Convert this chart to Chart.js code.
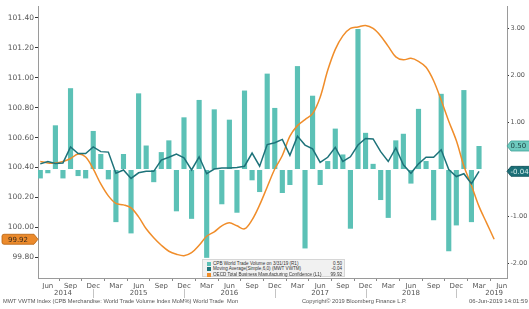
<!DOCTYPE html>
<html><head><meta charset="utf-8">
<script src="https://cdn.jsdelivr.net/npm/chart.js@4.4.0/dist/chart.umd.min.js"></script>
<style>
html,body{margin:0;padding:0;background:#fff;width:529px;height:309px;overflow:hidden;}
#wrap{position:relative;width:529px;height:309px;}
canvas{position:absolute;left:0;top:0;}
.foot{position:absolute;top:298px;font-family:"Liberation Sans",sans-serif;font-size:5.7px;color:#555;white-space:nowrap;}
#legend{position:absolute;left:202px;top:259px;width:143px;height:18px;background:#f1f1f1;border:1px solid #d6d6d6;box-sizing:border-box;font-family:"Liberation Sans",sans-serif;font-size:4.6px;color:#333;}
.row{position:absolute;left:0;right:0;height:5.6px;line-height:5.6px;white-space:nowrap;}
.sw{position:absolute;left:4px;top:1px;width:4px;height:4px;}
.tx{position:absolute;left:10px;top:0;}
.val{position:absolute;right:2px;top:0;}
</style></head>
<body><div id="wrap"><canvas id="c" width="529" height="309"></canvas>
<div id="legend"></div>
<div class="foot" style="left:3px">MWT VWTM Index (CPB Merchandise: World Trade Volume Index MoM%) World Trade&nbsp; Mon</div>
<div class="foot" style="left:302px">Copyright© 2019 Bloomberg Finance L.P.</div>
<div class="foot" style="left:469px;font-size:6px">06-Jun-2019 14:01:59</div>
</div>
<script>
// ---- categories (monthly, May 2014 .. Jun 2019) ----
const monthNames = ['Jan','Feb','Mar','Apr','May','Jun','Jul','Aug','Sep','Oct','Nov','Dec'];
const months = [];
for (let y = 2014, m = 4; y < 2019 || m <= 5; ) { months.push(monthNames[m] + ' ' + y); m++; if (m === 12) { m = 0; y++; } }

// ---- tick labels ----
const monthTickNames = ['Mar','Jun','Sep','Dec'];
const yearLabels = ['2014','2015','2016','2017','2018','2019'];
const yearLabelMonths = ['Aug 2014','Jun 2015','Jun 2016','Jun 2017','Jun 2018','May 2019'];
const yearBreakMonths = ['Dec 2014','Dec 2015','Dec 2016','Dec 2017','Dec 2018'];
const leftTicks = [99.8, 100.0, 100.2, 100.4, 100.6, 100.8, 101.0, 101.2, 101.4];
const rightTicks = [-2, -1, 0, 1, 2, 3];

// ---- series (May 2014 onward) ----
const cpbVolume = [-0.19,-0.08,0.94,-0.19,1.73,-0.14,-0.19,0.82,0.33,-0.21,
  -1.12,0.33,-1.36,1.62,0.51,-0.27,0.37,0.62,-0.89,1.11,
  -1.05,1.48,-1.88,1.28,-0.74,1.06,-0.92,1.68,-0.23,-0.48,
  2.04,1.31,-0.50,-0.33,2.20,-1.68,1.57,-0.33,0.18,0.87,
  0.32,-1.26,2.99,0.78,0.12,-0.65,-1.03,0.62,0.76,-0.30,
  1.29,0.18,-1.08,1.61,-1.74,-1.19,1.69,-1.12,0.50];
const movingAvg = [0.12,0.17,0.13,0.14,0.48,0.34,0.34,0.48,0.38,0.37,
  -0.08,-0.01,-0.19,-0.07,-0.04,-0.04,0.20,0.26,0.33,0.25,
  -0.01,0.27,-0.09,0.01,0.03,0.03,0.04,0.07,0.35,0.07,
  0.53,0.57,0.64,0.30,0.71,0.52,0.44,0.15,0.26,0.47,
  0.17,0.27,0.52,0.66,0.65,0.38,0.17,0.46,0.10,-0.08,
  0.12,0.26,0.26,0.42,0.00,-0.15,-0.09,-0.30,-0.04];
const oecdConfidence = [100.44,100.43,100.43,100.44,100.46,100.49,100.47,100.39,100.29,100.21,
  100.16,100.15,100.13,100.07,99.99,99.93,99.88,99.84,99.82,99.81,
  99.83,99.88,99.94,99.97,100.01,100.03,100.01,99.99,100.05,100.15,
  100.27,100.39,100.48,100.61,100.68,100.72,100.76,100.87,101.05,101.19,
  101.28,101.33,101.34,101.35,101.33,101.28,101.21,101.14,101.12,101.13,
  101.11,101.07,100.98,100.85,100.71,100.58,100.41,100.28,100.14,100.03,
  99.92];

const seriesNames = ['CPB World Trade Volume on 3/31/19 (R1)','Moving Average(Simple,6,0) (MWT VWTM)','OECD Total Business Manufacturing Confidence (L1)'];
const COL_BAR = '#5cc1b6', COL_MA = '#1d7279', COL_OECD = '#f08d2a';

const lastBar = cpbVolume[cpbVolume.length-1];
const lastMA = movingAvg[movingAvg.length-1];
const lastOecd = oecdConfidence[oecdConfidence.length-1];

// legend
const legendEl = document.getElementById('legend');
[[COL_BAR, seriesNames[0], lastBar.toFixed(2)],
 [COL_MA, seriesNames[1], lastMA.toFixed(2)],
 [COL_OECD, seriesNames[2], lastOecd.toFixed(2)]].forEach((r, i) => {
  const row = document.createElement('div');
  row.className = 'row'; row.style.top = (0.6 + i*5.6) + 'px';
  row.innerHTML = '<span class="sw" style="background:'+r[0]+'"></span><span class="tx">'+r[1]+'</span><span class="val">'+r[2]+'</span>';
  legendEl.appendChild(row);
});

function drawBadge(ctx, tipX, cy, side, text, fill, stroke, color) {
  const h = 10, a = 4;
  ctx.beginPath();
  if (side === 'left') {
    const x0 = 2, x1 = tipX - a;
    ctx.moveTo(x0+2, cy-h/2); ctx.lineTo(x1, cy-h/2); ctx.lineTo(tipX, cy); ctx.lineTo(x1, cy+h/2);
    ctx.lineTo(x0+2, cy+h/2); ctx.quadraticCurveTo(x0, cy+h/2, x0, cy+h/2-2); ctx.lineTo(x0, cy-h/2+2);
    ctx.quadraticCurveTo(x0, cy-h/2, x0+2, cy-h/2);
  } else {
    const x1 = tipX + a, x2 = 540;
    ctx.moveTo(tipX, cy); ctx.lineTo(x1, cy-h/2); ctx.lineTo(x2, cy-h/2); ctx.lineTo(x2, cy+h/2); ctx.lineTo(x1, cy+h/2);
  }
  ctx.closePath();
  ctx.fillStyle = fill; ctx.fill();
  ctx.lineWidth = 0.8; ctx.strokeStyle = stroke; ctx.stroke();
  ctx.fillStyle = color; ctx.font = '7px "DejaVu Sans"'; ctx.textBaseline = 'middle';
  if (side === 'left') { ctx.textAlign = 'center'; ctx.fillText(text, (2 + tipX - a)/2, cy + 0.5); }
  else { ctx.textAlign = 'left'; ctx.fillText(text, tipX + 3.5, cy + 0.5); }
}

const decor = {
  id: 'decor',
  afterDraw(chart) {
    const {ctx, chartArea, scales} = chart;
    const xs = scales.x, xy = scales.xYear;
    ctx.save();
    ctx.strokeStyle = '#c4c4c4'; ctx.lineWidth = 1;
    yearBreakMonths.forEach(m => {
      const px = Math.round(xs.getPixelForValue(months.indexOf(m))) + 0.5;
      ctx.beginPath(); ctx.moveTo(px, xy.top); ctx.lineTo(px, xy.bottom); ctx.stroke();
    });
    drawBadge(ctx, chartArea.left, scales.yL.getPixelForValue(lastOecd), 'left', lastOecd.toFixed(2), '#eb8a2c', '#b8620f', '#3a2a1a');
    drawBadge(ctx, chartArea.right, scales.yR.getPixelForValue(lastBar), 'right', lastBar.toFixed(2), '#6fcbc0', '#3d9f95', '#1f4444');
    drawBadge(ctx, chartArea.right, scales.yR.getPixelForValue(lastMA), 'right', lastMA.toFixed(2), '#1b6f77', '#10525a', '#d9f2ef');
    ctx.restore();
  }
};

Chart.defaults.font.family = '"DejaVu Sans", sans-serif';
const X_MIN = -0.3, X_MAX = 61.7;

new Chart(document.getElementById('c'), {
  type: 'bar',
  data: {
    datasets: [
      { type: 'line', label: seriesNames[1], data: movingAvg.map((v,i)=>({x:i,y:v})), xAxisID:'x', yAxisID:'yR',
        borderColor: COL_MA, borderWidth: 1.5, pointRadius: 0, tension: 0, order: 1 },
      { type: 'line', label: seriesNames[2], data: oecdConfidence.map((v,i)=>({x:i,y:v})), xAxisID:'x', yAxisID:'yL',
        borderColor: COL_OECD, borderWidth: 1.5, pointRadius: 0, tension: 0.35, order: 2 },
      { type: 'bar', label: seriesNames[0], data: cpbVolume.map((v,i)=>({x:i,y:v})), xAxisID:'x', yAxisID:'yR',
        backgroundColor: COL_BAR, barPercentage: 0.68, categoryPercentage: 1, order: 3 }
    ]
  },
  options: {
    responsive: false, animation: false, devicePixelRatio: 1,
    layout: { padding: { top: 6, bottom: 11, left: 0, right: 0 } },
    plugins: { legend: { display: false }, tooltip: { enabled: false } },
    scales: {
      x: {
        type: 'linear', position: 'bottom', min: X_MIN, max: X_MAX, offset: false, weight: 0,
        grid: { display: true, drawOnChartArea: false, drawTicks: true, tickLength: 3, color: '#8a8a8a' },
        border: { display: true, color: '#9a9a9a' },
        ticks: { autoSkip: false, maxRotation: 0, padding: 1, color: '#555', font: { size: 7 },
          callback: (v) => months[v] ? months[v].slice(0,3) : '' },
        afterBuildTicks: (s) => { s.ticks = months.map((m,i)=>({value:i})).filter(t => monthTickNames.includes(months[t.value].slice(0,3))); },
        afterFit: (s) => { s.height = 11; }
      },
      xYear: {
        type: 'linear', position: 'bottom', min: X_MIN, max: X_MAX, offset: false, weight: 1,
        grid: { display: false, drawTicks: false, tickLength: 0 }, border: { display: false },
        ticks: { autoSkip: false, maxRotation: 0, padding: 0, color: '#555', font: { size: 7 },
          callback: (v) => { const k = yearLabelMonths.indexOf(months[v]); return k >= 0 ? yearLabels[k] : ''; } },
        afterBuildTicks: (s) => { s.ticks = yearLabelMonths.map(m => ({ value: months.indexOf(m) })); },
        afterFit: (s) => { s.height = 9; }
      },
      yL: {
        type: 'linear', position: 'left', min: 99.661, max: 101.48,
        grid: { drawOnChartArea: false, drawTicks: true, tickLength: 3, color: '#333' },
        border: { display: true, color: '#9a9a9a' },
        ticks: { padding: 1, color: '#555', font: { size: 7.5 }, callback: (v) => Number(v).toFixed(2) },
        afterBuildTicks: (s) => { s.ticks = leftTicks.map(v => ({ value: v })); },
        afterFit: (s) => { s.width = 38; }
      },
      yR: {
        type: 'linear', position: 'right', min: -2.309, max: 3.479,
        grid: { drawOnChartArea: false, drawTicks: true, tickLength: 2, color: '#333' },
        border: { display: true, color: '#9a9a9a' },
        ticks: { padding: 1.5, color: '#555', font: { size: 6.5 }, callback: (v) => Number(v).toFixed(2) },
        afterBuildTicks: (s) => { s.ticks = rightTicks.map(v => ({ value: v })); },
        afterFit: (s) => { s.width = 22; }
      }
    }
  },
  plugins: [decor]
});
</script>
</body></html>
